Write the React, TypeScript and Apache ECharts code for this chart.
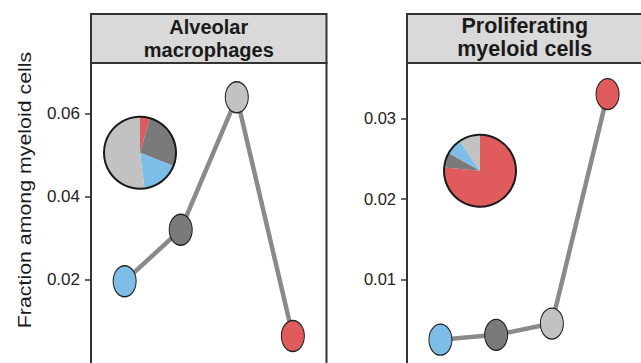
import React, { useEffect, useRef } from "react";
import * as echarts from "echarts";

const categories = ["Group 1", "Group 2", "Group 3", "Group 4"];
const categoryColors = ["#7dbde8", "#7a7a7a", "#c2c2c2", "#e05c5c"];
const panelTitles = ["Alveolar\nmacrophages", "Proliferating\nmyeloid cells"];
const alveolarValues = [0.0197, 0.0321, 0.064, 0.0065];
const proliferatingValues = [0.0025, 0.0031, 0.0045, 0.033];
// share of each group in pie (indexed as categories)
const alveolarShares = [0.17, 0.266, 0.52, 0.044];
const proliferatingShares = [0.073, 0.0675, 0.095, 0.764];
// clockwise drawing order from 12 o'clock
const pieOrder = [3, 1, 0, 2];
const alveolarTicks = [0.02, 0.04, 0.06];
const proliferatingTicks = [0.01, 0.02, 0.03];
const yTitle = "Fraction among myeloid cells";

const FONT = "'Liberation Sans', Arial, Helvetica, sans-serif";
const ELLIPSE = "path://M0,1 A1,1 0 1,1 2,1 A1,1 0 1,1 0,1 Z";

export default function App() {
  const ref = useRef<HTMLDivElement>(null);
  useEffect(() => {
    if (!ref.current) return;
    const chart = echarts.init(ref.current, undefined, { renderer: "svg" });

    const panels = [
      { left: 91, top: 63, width: 235.5, height: 302.4, max: 0.07226, interval: 0.02, ticks: alveolarTicks, values: alveolarValues, shares: alveolarShares, pie: [140, 152.7], labelSize: 17, titleSize: 20, titleY: 38.5 },
      { left: 407, top: 63, width: 235.5, height: 296.8, max: 0.03687, interval: 0.01, ticks: proliferatingTicks, values: proliferatingValues, shares: proliferatingShares, pie: [480, 170.7], labelSize: 16.5, titleSize: 21.5, titleY: 37.5 },
    ];

    const graphic: any[] = [];
    panels.forEach((p, i) => {
      graphic.push({
        type: "rect",
        z: 0,
        shape: { x: p.left, y: 14, width: p.width, height: 49 },
        style: { fill: "#d9d9d9", stroke: "#333", lineWidth: 2 },
      });
      graphic.push({
        type: "text",
        z: 1,
        x: p.left + p.width / 2,
        y: p.titleY,
        style: {
          text: panelTitles[i],
          fontSize: p.titleSize,
          fontWeight: "bold",
          fontFamily: FONT,
          lineHeight: 23,
          fill: "#1a1a1a",
          align: "center",
          verticalAlign: "middle",
        },
      });
      graphic.push({
        type: "rect",
        z: 100,
        shape: { x: p.left, y: 63, width: p.width, height: 330 },
        style: { fill: "none", stroke: "#333", lineWidth: 2 },
      });
      graphic.push({
        type: "circle",
        z: 100,
        shape: { cx: p.pie[0], cy: p.pie[1], r: 36 },
        style: { fill: "none", stroke: "#1a1a1a", lineWidth: 2 },
      });
    });
    graphic.push({
      type: "text",
      z: 1,
      x: 25,
      y: 190,
      rotation: Math.PI / 2,
      scaleX: 1.22,
      style: {
        text: yTitle,
        fontSize: 17.5,
        fontFamily: FONT,
        fill: "#1a1a1a",
        align: "center",
        verticalAlign: "middle",
      },
    });

    const option: any = {
      animation: false,
      backgroundColor: "#ffffff",
      textStyle: { fontFamily: FONT },
      grid: panels.map((p) => ({ left: p.left, top: p.top, width: p.width, height: p.height, show: false })),
      xAxis: panels.map((_, i) => ({
        type: "value",
        gridIndex: i,
        min: -0.6,
        max: 3.6,
        show: false,
      })),
      yAxis: panels.map((p, i) => ({
        type: "value",
        gridIndex: i,
        min: 0,
        max: p.max,
        interval: p.interval,
        axisLine: { show: false, onZero: false },
        splitLine: { show: false },
        axisTick: { show: true, length: 6, customValues: p.ticks, lineStyle: { color: "#333", width: 1.5 } },
        axisLabel: {
          fontSize: p.labelSize,
          color: "#222",
          margin: 11,
          fontFamily: FONT,
          customValues: p.ticks,
          formatter: (v: number) => v.toFixed(2),
        },
      })),
      series: [
        ...panels.map((p, i) => ({
          type: "line",
          xAxisIndex: i,
          yAxisIndex: i,
          clip: false,
          data: p.values.map((v, k) => ({
            value: [k, v],
            itemStyle: { color: categoryColors[k], borderColor: "#222", borderWidth: 1.2 },
          })),
          symbol: ELLIPSE,
          symbolSize: [23, 31],
          showSymbol: true,
          lineStyle: { color: "#8a8a8a", width: 4.5 },
          z: 3,
        })),
        ...panels.map((p) => ({
          type: "pie",
          center: p.pie,
          radius: 36,
          startAngle: 90,
          clockwise: true,
          label: { show: false },
          labelLine: { show: false },
          emphasis: { disabled: true },
          itemStyle: { borderWidth: 0 },
          z: 4,
          data: pieOrder.map((k) => ({
            name: categories[k],
            value: p.shares[k],
            itemStyle: { color: categoryColors[k] },
          })),
        })),
      ],
      graphic,
    };
    chart.setOption(option);
    return () => chart.dispose();
  }, []);
  return (
    <div
      ref={ref}
      style={{ position: "fixed", left: 0, top: 0, width: 641, height: 363, background: "#fff" }}
    />
  );
}
